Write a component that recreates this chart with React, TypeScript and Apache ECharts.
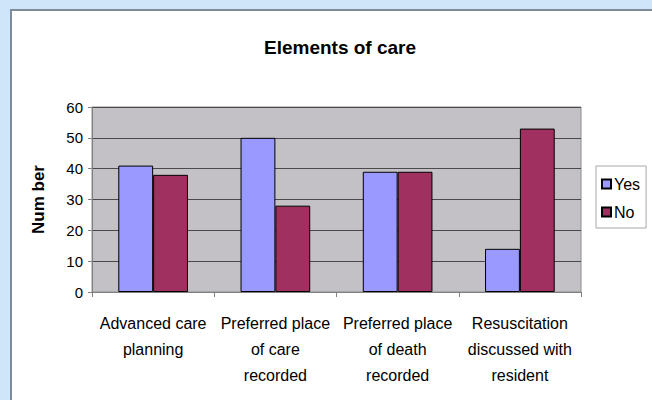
import React, { useEffect, useRef } from "react";
import * as echarts from "echarts";

const categories = [
  "Advanced care\nplanning",
  "Preferred place\nof care\nrecorded",
  "Preferred place\nof death\nrecorded",
  "Resuscitation\ndiscussed with\nresident",
];
const yesValues = [41, 50, 39, 14];
const noValues = [38, 28, 39, 53];
const seriesNames = ["Yes", "No"];

export default function App() {
  const ref = useRef<HTMLDivElement>(null);
  useEffect(() => {
    if (!ref.current) return;
    const chart = echarts.init(ref.current, null, { renderer: "svg" });
    const font = "'Liberation Sans', Arial, sans-serif";
    chart.setOption({
      animation: false,
      backgroundColor: "#cfe5f9",
      textStyle: { fontFamily: font, color: "#000" },
      graphic: [
        {
          type: "rect",
          shape: { x: 11, y: 10, width: 660, height: 420 },
          style: { fill: "#ffffff", stroke: "#7f8b97", lineWidth: 2 },
          z: -10,
        },
      ],
      title: {
        text: "Elements of care",
        left: 335,
        top: 33,
        textAlign: "center",
        textStyle: { fontFamily: font, fontSize: 19, fontWeight: "bold", color: "#000" },
      },
      legend: {
        orient: "vertical",
        left: 596,
        top: 166,
        data: seriesNames,
        icon: "rect",
        itemWidth: 9,
        itemHeight: 9,
        itemGap: 12,
        padding: [10, 6, 8, 5],
        borderColor: "#a8a8a8",
        borderWidth: 1,
        textStyle: { fontFamily: font, fontSize: 16, color: "#000", padding: [0, 0, 0, -2] },
      },
      grid: { left: 92, top: 107, width: 489, height: 185, containLabel: false, show: true, backgroundColor: "#c3c1c5", borderColor: "#8c8c8c", borderWidth: 1 },
      xAxis: {
        type: "category",
        data: categories,
        axisLine: { show: true, lineStyle: { color: "#808080" } },
        axisTick: { show: true, alignWithLabel: false, length: 5, lineStyle: { color: "#808080" } },
        axisLabel: { interval: 0, fontSize: 16, lineHeight: 26, margin: 18, color: "#000", fontFamily: font },
      },
      yAxis: {
        type: "value",
        min: 0,
        max: 60,
        interval: 10,
        name: "Num ber",
        nameLocation: "middle",
        nameGap: 45,
        nameTextStyle: { fontFamily: font, fontSize: 17, fontWeight: "bold", color: "#000" },
        axisLine: { show: true, lineStyle: { color: "#808080" } },
        axisTick: { show: true, length: 4, lineStyle: { color: "#808080" } },
        axisLabel: { fontSize: 15, color: "#000", margin: 9, fontFamily: font },
        splitLine: { show: true, lineStyle: { color: "#4a4a4a", width: 1 } },
      },
      series: [
        {
          name: seriesNames[0],
          type: "bar",
          data: yesValues,
          barGap: "0%",
          barCategoryGap: "43%",
          itemStyle: { color: "#9999ff", borderColor: "#000", borderWidth: 1 },
        },
        {
          name: seriesNames[1],
          type: "bar",
          data: noValues,
          itemStyle: { color: "#a03060", borderColor: "#000", borderWidth: 1 },
        },
      ],
    });
    return () => chart.dispose();
  }, []);
  return (
    <div
      ref={ref}
      style={{ position: "fixed", left: 0, top: 0, width: 652, height: 400 }}
    />
  );
}
